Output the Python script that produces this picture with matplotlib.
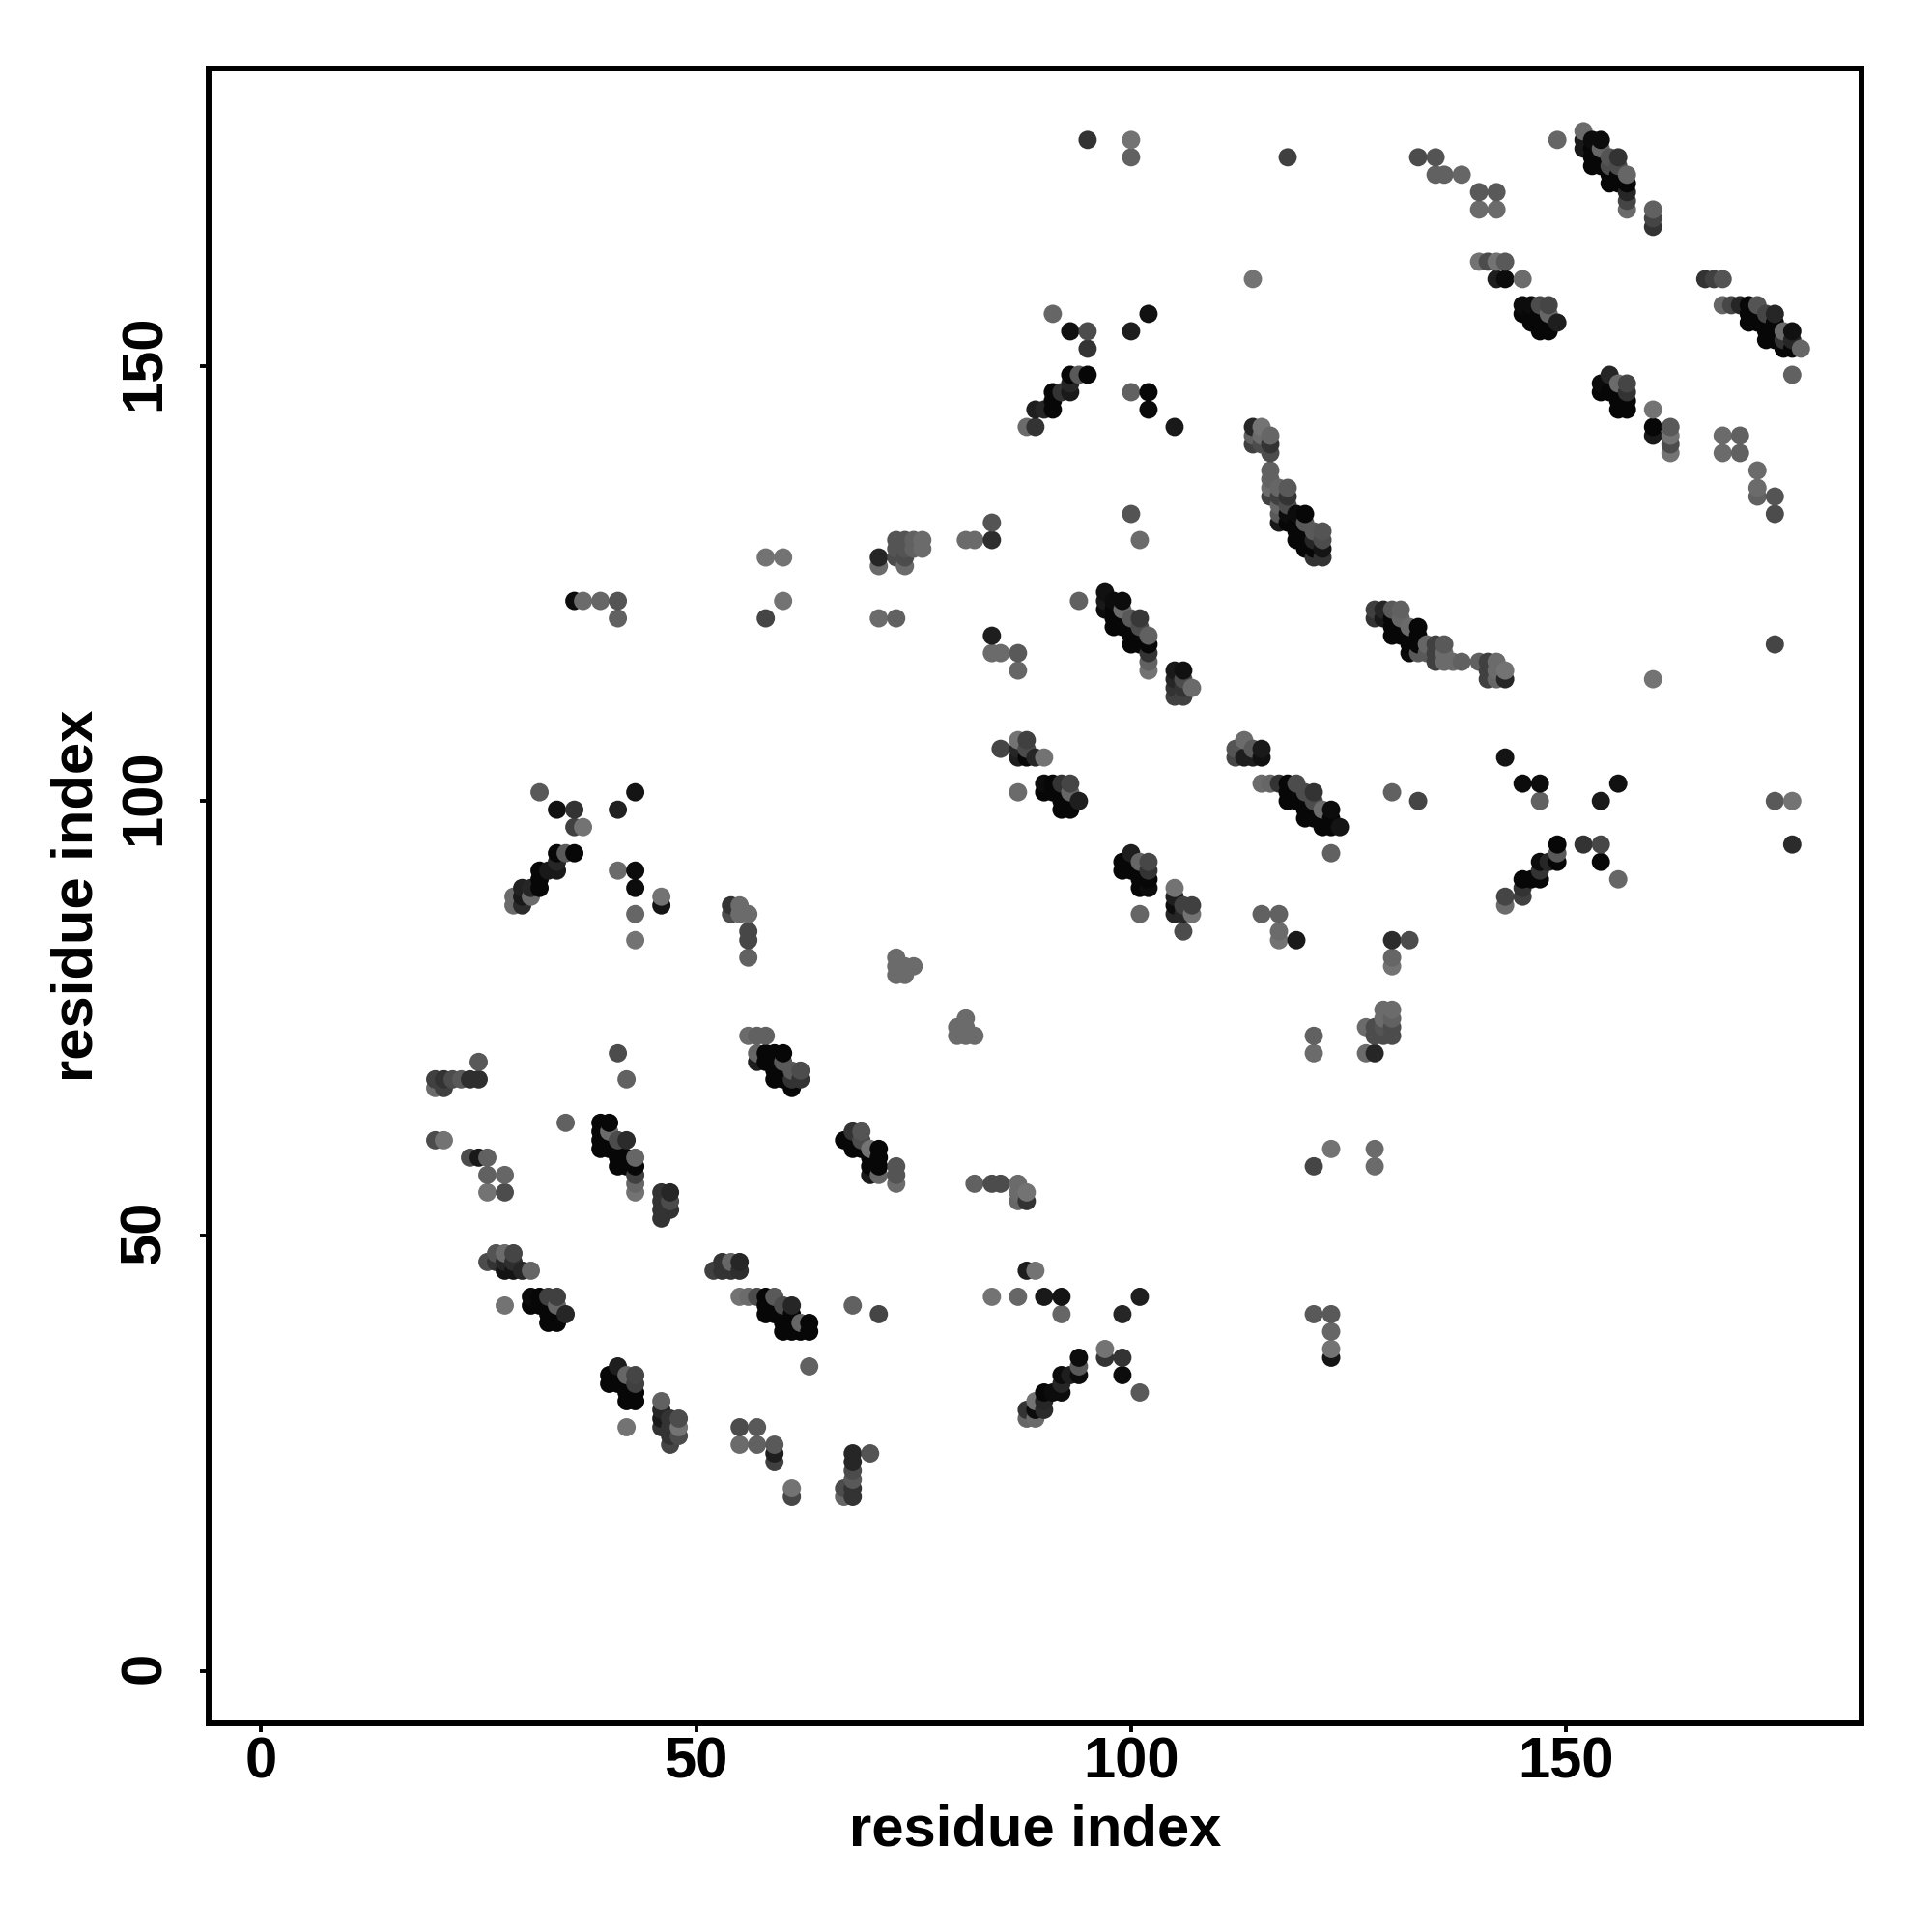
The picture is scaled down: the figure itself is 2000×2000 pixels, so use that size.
import numpy as np
import matplotlib
matplotlib.use('Agg')
import matplotlib.pyplot as plt
from matplotlib.transforms import ScaledTranslation

plt.rcParams['font.family'] = ['Liberation Sans', 'DejaVu Sans']

# (residue i, residue j, grey level of the dot)
low_left = [
    (25,70,.35),(20,68,.25),(21,68,.2),(22,68,.3),(23,68,.35),(24,68,.18),(25,68,.18),(20,67,.42),(21,67,.25),
    (20,61,.3),(21,61,.45),(24,59,.3),(25,59,.1),(26,59,.38),(26,57,.38),(28,57,.4),(26,55,.45),(28,55,.3),
    (41,71,.3),(42,68,.38),(35,63,.38),
    (27,48,.33),(28,48,.42),(29,48,.27),(26,47,.3),(27,47,.2),(28,47,.15),(29,47,.18),
    (28,46,.08),(29,46,.08),(30,46,.15),(31,46,.4),(28,42,.45),
    (31,43,.05),(32,43,.03),(33,43,.25),(34,43,.25),(31,42,.03),(32,42,.03),(33,42,.03),(34,42,.4),
    (35,41,.15),(33,41,.03),(34,41,.03),(33,40,.03),(34,40,.03),
    (41,35,.12),(40,34,.03),(42,34,.4),(43,34,.27),(40,33,.03),(41,33,.03),(42,33,.03),(43,33,.25),
    (42,32,.03),(43,32,.03),(42,31,.03),(43,31,.03),(42,28,.45),
    (46,31,.38),(46,30,.15),(46,29,.1),(46,28,.2),(47,29,.2),(48,29,.3),(47,28,.2),(48,28,.45),
    (47,27,.2),(48,27,.3),(47,26,.27),
]
low_mid = [
    (39,63,.03),(40,63,.03),(39,62,.03),(40,62,.42),(39,61,.03),(39,60,.03),(40,60,.03),
    (41,61,.3),(42,61,.17),(41,60,.03),(41,59,.03),(41,58,.03),(42,59,.03),(42,58,.03),
    (43,59,.4),(43,58,.03),(43,57,.25),(43,56,.4),(43,55,.45),
    (47,55,.15),(46,55,.2),(47,54,.3),(46,54,.2),(47,53,.2),(46,53,.2),(46,52,.2),
    (56,73,.42),(57,73,.38),(58,73,.38),(57,71,.4),(58,71,.03),(59,71,.03),(60,71,.03),
    (57,70,.12),(58,70,.03),(59,70,.03),(60,70,.35),(59,69,.03),(60,69,.03),(61,69,.35),(62,69,.3),
    (59,68,.03),(60,68,.03),(61,68,.2),(62,68,.2),(61,67,.03),
    (52,46,.25),(53,47,.2),(54,47,.4),(55,47,.15),(53,46,.2),(54,46,.2),(55,46,.18),
    (55,43,.45),(56,43,.42),(57,43,.3),(58,43,.03),(59,43,.35),(58,42,.03),(59,42,.03),(60,42,.3),(61,42,.15),
    (58,41,.03),(59,41,.03),(60,41,.03),(61,41,.03),(60,40,.03),(61,40,.03),(62,40,.4),(63,40,.03),
    (60,39,.03),(61,39,.03),(62,39,.03),(63,39,.03),(63,35,.38),(68,42,.38),(71,41,.27),
    (67,61,.03),(68,62,.2),(69,62,.33),(68,61,.03),(69,61,.3),(68,60,.03),(69,60,.03),(70,60,.45),(71,60,.03),
    (71,59,.03),(70,59,.03),(71,58,.03),(70,58,.03),(70,57,.1),(71,57,.4),
    (73,58,.33),(73,57,.33),(73,56,.42),
    (55,28,.3),(57,28,.35),(55,26,.42),(57,26,.38),(59,26,.35),(59,25,.12),(59,24,.25),(61,21,.45),(61,20,.28),
    (68,25,.15),(70,25,.33),(68,24,.15),(68,23,.3),(68,22,.35),(67,21,.3),(68,21,.2),(67,20,.4),(68,20,.2),
]
low_right = [
    (81,75,.42),(80,74,.42),(81,74,.42),(80,73,.42),(81,73,.42),(82,73,.42),
    (82,56,.38),(84,56,.3),(85,56,.3),(87,56,.42),(87,55,.42),(87,54,.4),(88,55,.45),(88,54,.2),
    (88,46,.12),(89,46,.45),(84,43,.45),(87,43,.4),(90,43,.1),(92,43,.08),(92,41,.4),(101,43,.12),(99,41,.15),
    (94,36,.05),(97,37,.45),(97,36,.2),(99,36,.2),(99,34,.05),(101,32,.35),(94,35,.35),(94,34,.05),
    (92,34,.05),(93,34,.12),(92,33,.15),(92,32,.05),(90,32,.03),(91,32,.05),(90,31,.15),(89,31,.45),
    (90,30,.17),(89,30,.05),(88,30,.2),(88,29,.4),(89,29,.42),
    (121,73,.38),(121,71,.42),(127,74,.42),(127,71,.42),(128,71,.15),(128,74,.3),(128,73,.3),
    (129,76,.42),(130,76,.42),(129,75,.42),(130,75,.38),(129,74,.33),(130,74,.3),(129,73,.3),(130,73,.3),
    (123,60,.45),(121,58,.27),(128,60,.42),(128,58,.42),
    (121,41,.35),(123,41,.35),(123,39,.4),(123,37,.45),(123,36,.08),
]
mid_left = [
    (58,128,.45),(60,128,.45),(60,123,.45),(58,121,.27),
    (36,123,.05),(37,123,.42),(39,123,.4),(41,123,.33),(41,121,.38),
    (71,128,.15),(71,127,.42),(71,121,.42),(73,121,.38),(74,127,.42),(73,128,.3),(74,128,.3),
    (73,130,.33),(74,130,.33),(75,130,.38),(76,130,.42),(73,129,.33),(74,129,.33),(75,129,.38),(76,129,.42),
    (32,101,.35),(34,99,.07),(36,99,.2),(41,99,.13),(43,101,.08),(36,97,.25),(37,97,.45),
    (34,94,.03),(35,94,.35),(36,94,.03),(32,92,.03),(33,92,.1),(34,92,.1),(34,93,.15),
    (32,91,.03),(32,90,.03),(31,90,.15),(30,90,.13),(31,89,.42),(30,89,.1),(29,89,.42),(30,88,.17),(29,88,.42),
    (41,92,.42),(43,92,.05),(43,90,.05),(43,87,.4),(43,84,.45),(46,89,.45),(46,88,.08),
    (54,88,.2),(54,87,.3),(55,88,.42),(55,87,.42),(56,87,.42),(56,85,.28),(56,84,.28),(56,82,.38),
    (73,82,.42),(73,81,.42),(73,80,.42),(74,81,.42),(74,80,.42),(75,81,.42),
]
mid_center = [
    (81,130,.42),(82,130,.42),(84,130,.18),(84,132,.33),(101,130,.42),(100,133,.33),
    (84,119,.12),(84,117,.42),(85,117,.42),(87,117,.35),(87,115,.4),(94,123,.38),
    (97,124,.07),(97,123,.1),(97,122,.05),(98,123,.05),(99,123,.05),(98,122,.03),(99,122,.42),
    (98,121,.03),(98,120,.03),(99,121,.03),(100,121,.35),(101,121,.22),(99,120,.03),(100,120,.03),(101,120,.3),
    (100,119,.03),(101,119,.03),(102,119,.38),(100,118,.03),(101,118,.03),(102,118,.03),
    (102,117,.2),(102,116,.38),(102,115,.45),
    (105,115,.1),(106,115,.07),(105,114,.15),(106,114,.3),(107,113,.42),(105,113,.2),(106,113,.2),(105,112,.25),(106,112,.25),
    (85,106,.27),(87,107,.45),(88,107,.25),(87,106,.15),(88,106,.3),(87,105,.12),(88,105,.03),(89,105,.15),(90,105,.45),
    (87,101,.42),(90,102,.05),(91,102,.03),(92,102,.2),(93,102,.27),(90,101,.03),(91,101,.03),(92,101,.03),(93,101,.4),
    (94,100,.12),(92,100,.03),(93,100,.03),(92,99,.03),(93,99,.03),
    (112,106,.33),(113,107,.42),(114,106,.35),(115,106,.1),(112,105,.27),(113,105,.12),(114,105,.12),(115,105,.07),
    (115,102,.42),(116,102,.4),(117,102,.2),(118,102,.03),(119,102,.3),(118,101,.03),(119,101,.03),(120,101,.3),(121,101,.2),
    (118,100,.03),(119,100,.03),(120,100,.03),(121,100,.3),(120,99,.03),(121,99,.03),(122,99,.42),(123,99,.05),
    (120,98,.03),(121,98,.03),(122,98,.03),(123,98,.03),(122,97,.03),(123,97,.03),(124,97,.08),
    (123,94,.38),(130,101,.38),(133,100,.27),
    (100,94,.12),(99,93,.03),(101,93,.4),(102,93,.28),(99,92,.03),(100,92,.03),(101,92,.03),(102,92,.2),
    (101,91,.03),(102,91,.03),(101,90,.03),(102,90,.05),(101,87,.4),
    (105,90,.45),(105,89,.12),(105,88,.05),(106,88,.25),(107,88,.25),(105,87,.15),(106,87,.15),(107,87,.45),(106,85,.3),
    (115,87,.38),(117,87,.38),(117,85,.42),(117,84,.45),(119,84,.1),
    (130,84,.17),(132,84,.3),(130,82,.4),(130,81,.45),
]
mid_right = [
    (128,122,.25),(129,122,.15),(130,122,.35),(131,122,.38),(128,121,.2),(129,121,.1),(130,121,.03),(131,121,.4),
    (130,120,.03),(131,120,.03),(132,120,.42),(133,120,.03),(130,119,.03),(131,119,.03),(132,119,.03),(133,119,.03),
    (132,118,.03),(132,117,.05),(133,118,.03),(133,117,.35),(134,118,.4),(135,118,.25),(136,118,.35),
    (134,117,.35),(135,117,.25),(136,117,.42),(135,116,.25),(136,116,.42),(137,116,.42),(138,116,.38),
    (140,116,.38),(141,116,.25),(142,116,.42),(141,115,.25),(142,115,.42),(143,115,.45),
    (141,114,.25),(142,114,.4),(143,114,.15),
    (174,118,.27),(160,114,.45),(143,105,.08),(145,102,.05),(147,102,.05),(147,100,.38),(156,102,.07),(154,100,.1),
    (149,95,.03),(152,95,.2),(154,95,.28),(154,93,.03),(156,91,.4),(176,95,.17),(174,100,.35),(176,100,.45),
    (149,94,.35),(149,93,.03),(147,93,.05),(148,93,.15),(147,92,.2),(147,91,.03),(145,91,.03),(146,91,.03),
    (145,90,.2),(145,89,.25),(143,89,.27),(143,88,.42),
]
top_left = [
    (95,176,.2),(100,176,.45),(100,174,.38),(118,174,.25),(114,160,.45),
    (91,156,.4),(102,156,.07),(93,154,.07),(95,154,.3),(100,154,.12),(95,152,.2),
    (93,149,.03),(94,149,.35),(95,149,.03),(91,147,.03),(92,147,.2),(93,147,.1),(93,148,.15),
    (100,147,.38),(102,147,.03),(102,145,.04),(91,146,.03),(91,145,.03),(90,145,.15),(89,145,.12),
    (89,143,.2),(88,143,.42),(105,143,.1),
    (114,143,.15),(115,143,.45),(116,142,.4),(114,142,.38),(115,142,.42),(114,141,.25),(115,141,.3),(116,141,.2),(116,140,.3),
    (116,138,.38),(116,137,.38),(116,136,.42),(116,135,.25),(117,136,.4),(117,135,.25),(118,136,.35),(118,135,.2),
    (117,134,.4),(118,134,.3),(117,133,.35),(117,132,.1),(118,133,.05),(119,133,.05),(120,133,.03),
    (118,132,.03),(119,132,.03),(120,132,.35),(121,131,.35),(122,131,.33),(119,131,.03),(120,131,.03),
    (119,130,.03),(120,130,.03),(121,130,.15),(122,130,.3),(120,129,.03),(121,129,.03),(122,129,.08),(121,128,.2),(122,128,.2),
]
top_right = [
    (133,174,.3),(135,174,.33),(135,172,.38),(136,172,.38),(138,172,.4),(140,170,.35),(142,170,.35),(140,168,.42),(142,168,.42),
    (149,176,.4),(152,177,.42),(152,176,.1),(152,175,.1),(153,176,.05),(154,176,.05),(153,175,.03),(154,175,.4),
    (153,174,.03),(154,174,.03),(155,174,.33),(156,174,.2),(153,173,.03),(154,173,.03),(155,173,.3),(156,173,.3),
    (155,172,.03),(156,172,.03),(157,172,.4),(155,171,.03),(156,171,.03),(157,171,.03),(157,170,.15),(157,169,.27),(157,168,.42),
    (160,168,.38),(160,167,.27),(160,166,.2),
    (140,162,.45),(141,162,.3),(142,162,.45),(143,162,.35),(142,160,.12),(143,160,.05),(145,160,.42),
    (145,157,.05),(146,157,.05),(147,157,.3),(148,157,.27),(145,156,.03),(146,156,.03),(147,156,.03),(148,156,.4),
    (149,155,.12),(146,155,.03),(147,155,.03),(148,155,.03),(147,154,.03),(148,154,.03),
    (176,149,.38),(166,160,.2),(167,160,.25),(168,160,.33),
    (168,157,.4),(169,157,.28),(170,157,.15),(171,157,.03),(172,157,.33),(171,156,.03),(172,156,.03),(173,156,.27),(174,156,.15),
    (171,155,.03),(172,155,.03),(173,155,.03),(174,155,.03),(173,154,.03),(174,154,.03),(175,154,.42),(176,154,.07),
    (173,153,.03),(174,153,.03),(175,153,.2),(176,153,.15),(175,152,.03),(176,152,.03),(177,152,.4),
    (155,149,.15),(154,148,.05),(156,148,.42),(157,148,.27),(154,147,.03),(155,147,.03),(156,147,.03),(157,147,.2),
    (156,146,.03),(157,146,.03),(156,145,.03),(157,145,.03),
    (160,145,.45),(160,143,.03),(160,142,.1),(162,143,.35),(162,142,.45),(162,141,.3),(162,140,.45),
    (168,142,.42),(170,142,.38),(168,140,.42),(170,140,.38),(172,138,.42),(172,136,.42),(172,135,.38),(174,135,.33),(174,133,.3),
]
ticks = [0, 50, 100, 150]

contacts = np.array(low_left + low_mid + low_right + mid_left + mid_center + mid_right + top_left + top_right)
# later columns sit on top, and higher rows on top within a column
order = np.lexsort((contacts[:, 1], contacts[:, 0]))
contacts = contacts[order]

fig = plt.figure(figsize=(20, 20), dpi=100)
ax = fig.add_axes([216 / 2000, 1 - 1784 / 2000, (1927 - 216) / 2000, (1784 - 71) / 2000])

ax.scatter(contacts[:, 0], contacts[:, 1], c=contacts[:, 2], cmap='gray', vmin=0, vmax=1,
           s=185, linewidths=0, clip_on=False)

ax.set_xlim(-6.04, 183.96)
ax.set_ylim(-6.04, 184.2)
ax.set_xticks(ticks)
ax.set_yticks(ticks)
ax.set_xticklabels(ticks, fontsize=43, fontweight='bold')
ax.set_yticklabels(ticks, fontsize=43, fontweight='bold', rotation=90, va='center')
ax.tick_params(axis='both', length=6.5, width=2.8, color='black')
ax.tick_params(axis='x', pad=3)
ax.tick_params(axis='y', pad=21)
for side in ax.spines.values():
    side.set_linewidth(4.3)

# nudge the rotated labels up onto their ticks
nudge = ScaledTranslation(0, 3.5 / 100, fig.dpi_scale_trans)
for lab in ax.get_yticklabels():
    lab.set_transform(lab.get_transform() + nudge)

ax.set_xlabel('residue index', fontsize=43, fontweight='bold')
ax.set_ylabel('residue index', fontsize=43, fontweight='bold')
ax.xaxis.set_label_coords(0.5, -0.0485, transform=ax.transAxes)
ax.yaxis.set_label_coords(-0.0636, 0.5, transform=ax.transAxes)

fig.savefig('out.png', dpi=100, facecolor='white')
